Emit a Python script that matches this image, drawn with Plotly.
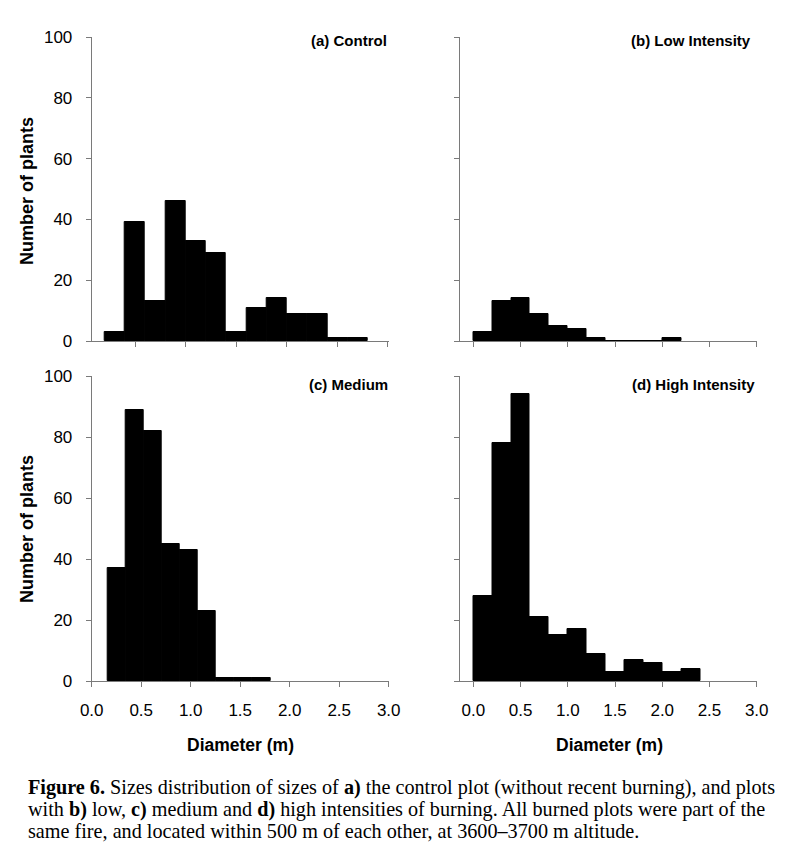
import plotly.graph_objects as go

# ---- data ----
a_centers = [0.3, 0.5, 0.7, 0.9, 1.1, 1.3, 1.5, 1.7, 1.9, 2.1, 2.3, 2.5, 2.7]
a_counts = [3, 39, 13, 46, 33, 29, 3, 11, 14, 9, 9, 1, 1]

b_centers = [0.1, 0.3, 0.5, 0.7, 0.9, 1.1, 1.3, 1.5, 1.7, 1.9, 2.1]
b_counts = [3, 13, 14, 9, 5, 4, 1, 0, 0, 0, 1]

c_centers = [0.249, 0.432, 0.614, 0.797, 0.980, 1.163, 1.346, 1.528, 1.711]
c_counts = [37, 89, 82, 45, 43, 23, 1, 1, 1]

d_centers = [0.1, 0.3, 0.5, 0.7, 0.9, 1.1, 1.3, 1.5, 1.7, 1.9, 2.1, 2.3]
d_counts = [28, 78, 94, 21, 15, 17, 9, 3, 7, 6, 3, 4]

panel_titles = ["(a) Control", "(b) Low Intensity", "(c) Medium", "(d) High Intensity"]
y_title = "Number of plants"
x_title = "Diameter (m)"
caption_lines = [
    "<b>Figure 6.</b> Sizes distribution of sizes of <b>a)</b> the control plot (without recent burning), and plots",
    "with <b>b)</b> low, <b>c)</b> medium and <b>d)</b> high intensities of burning. All burned plots were part of the",
    "same fire, and located within 500 m of each other, at 3600\u20133700 m altitude.",
]

W, H = 788, 853
OFF = 8  # page body offset

def px(x):
    return (x - OFF) / W
def py(y):
    return 1 - (y - OFF) / H

SANS = "Liberation Sans, Arial, sans-serif"
SERIF = "Liberation Serif, Times New Roman, serif"
AXC = "#7a7a7a"

fig = go.Figure()

panels = [
    (a_centers, a_counts, 0.2, "x", "y"),
    (b_centers, b_counts, 0.2, "x2", "y2"),
    (c_centers, c_counts, 0.184, "x3", "y3"),
    (d_centers, d_counts, 0.2, "x4", "y4"),
]
for cx, cy, w, xa, ya in panels:
    fig.add_trace(go.Bar(
        x=cx, y=cy, width=[w] * len(cx), xaxis=xa, yaxis=ya,
        marker=dict(color="black", line=dict(color="black", width=1)),
        showlegend=False, hoverinfo="skip",
    ))

left_dom = [px(91.7), px(389)]
right_dom = [px(459.5), px(757)]
top_dom = [py(341), py(37)]
bot_dom = [py(681), py(376)]

def xaxis(dom, anchor, rng, labels):
    return dict(domain=dom, anchor=anchor, range=rng, showgrid=False, zeroline=False,
                automargin=False,
                showline=True, linecolor=AXC, linewidth=1,
                ticks="outside", ticklen=5, tickcolor=AXC, tickwidth=1,
                tick0=0, dtick=0.5, tickformat=".1f", showticklabels=labels,
                ticklabelstandoff=9,
                tickfont=dict(family=SANS, size=17, color="black"))

def yaxis(dom, anchor, labels):
    return dict(domain=dom, anchor=anchor, range=[0, 100], showgrid=False, zeroline=False,
                automargin=False,
                showline=True, linecolor=AXC, linewidth=1,
                ticks="outside", ticklen=5, tickcolor=AXC, tickwidth=1,
                tick0=0, dtick=20, showticklabels=labels,
                ticklabelstandoff=10,
                tickfont=dict(family=SANS, size=17, color="black"))

fig.update_layout(
    width=W, height=H,
    margin=dict(l=0, r=0, t=0, b=0, pad=0, autoexpand=False),
    paper_bgcolor="white", plot_bgcolor="white",
    bargap=0,
    xaxis=xaxis(left_dom, "y", [0.072, 3.01], False),
    yaxis=yaxis(top_dom, "x", True),
    xaxis2=xaxis(right_dom, "y2", [-0.146, 3.003], False),
    yaxis2=yaxis(top_dom, "x2", False),
    xaxis3=xaxis(left_dom, "y3", [0.0, 3.003], True),
    yaxis3=yaxis(bot_dom, "x3", True),
    xaxis4=xaxis(right_dom, "y4", [-0.146, 3.003], True),
    yaxis4=yaxis(bot_dom, "x4", False),
)

ann = []
# panel titles
for text, xr, yc in [(panel_titles[0], 389, 41), (panel_titles[1], 753, 41),
                     (panel_titles[2], 390, 384), (panel_titles[3], 757, 384)]:
    ann.append(dict(text="<b>%s</b>" % text, x=px(xr), y=py(yc), xref="paper", yref="paper",
                    xanchor="right", yanchor="middle", showarrow=False,
                    font=dict(family=SANS, size=15, color="black")))
# y titles
for yc in [191, 529]:
    ann.append(dict(text="<b>%s</b>" % y_title, x=px(27), y=py(yc), xref="paper", yref="paper",
                    xanchor="center", yanchor="middle", showarrow=False, textangle=-90,
                    font=dict(family=SANS, size=18, color="black")))
# x titles
for xc in [240, 609]:
    ann.append(dict(text="<b>%s</b>" % x_title, x=px(xc), y=py(745), xref="paper", yref="paper",
                    xanchor="center", yanchor="middle", showarrow=False,
                    font=dict(family=SANS, size=17.5, color="black")))
# caption
for i, line in enumerate(caption_lines):
    ann.append(dict(text=line, x=px(26), y=py(787 + 22 * i), xref="paper", yref="paper",
                    xanchor="left", yanchor="middle", showarrow=False,
                    font=dict(family=SERIF, size=20.2, color="black")))
fig.update_layout(annotations=ann)

fig.write_html("out.html")
